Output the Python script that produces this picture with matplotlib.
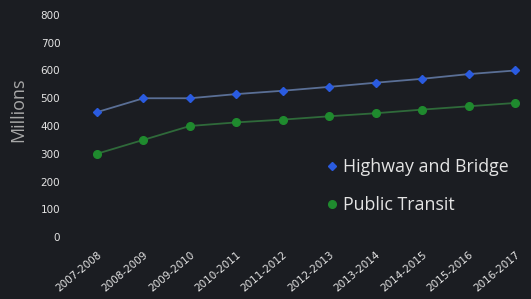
import matplotlib
matplotlib.use("Agg")
import matplotlib.pyplot as plt

# data
years = ["2007-2008", "2008-2009", "2009-2010", "2010-2011", "2011-2012",
         "2012-2013", "2013-2014", "2014-2015", "2015-2016", "2016-2017"]
highway = [450, 500, 500, 515, 527, 541, 556, 570, 587, 600]
transit = [300, 350, 400, 413, 423, 435, 446, 459, 471, 483]
yticks = [0, 100, 200, 300, 400, 500, 600, 700, 800]

bg = "#1b1d22"
txt = "#e4e4e4"

fig = plt.figure(figsize=(5.31, 2.99), dpi=100, facecolor=bg)
# axes placed in pixels: x 70..525, y 15..237
ax = fig.add_axes([70 / 531, 62 / 299, 455 / 531, 222 / 299], facecolor=bg)

x = list(range(len(years)))
ax.plot(x, highway, color="#5a6f96", lw=1.3, marker="D", ms=4.5,
        mfc="#2a5be0", mec="#2a5be0", label="Highway and Bridge")
ax.plot(x, transit, color="#2f6a3a", lw=1.3, marker="o", ms=5.5,
        mfc="#1f8a2e", mec="#1f8a2e", label="Public Transit")

# 0 -> px 97, 9 -> px 515
ppu = (515 - 97) / 9
ax.set_xlim((70 - 97) / ppu, (525 - 97) / ppu)
ax.set_ylim(0, 800)
ax.set_yticks(yticks)
ax.set_xticks(x)
ax.set_xticklabels(years, rotation=40, ha="right", rotation_mode="anchor")

for s in ax.spines.values():
    s.set_visible(False)
ax.tick_params(length=0, colors=txt, labelsize=7.5)
ax.tick_params(axis="y", pad=7)
ax.tick_params(axis="x", pad=9)

fig.text(18 / 531, 1 - 110 / 299, "Millions", rotation=90, color="#a8a8a8",
         fontsize=13, ha="center", va="center", family="Open Sans")

leg = ax.legend(loc="upper left", bbox_to_anchor=(311 / 531, 1 - 142 / 299),
                bbox_transform=fig.transFigure, frameon=False,
                handlelength=0.6, handletextpad=0.3, labelspacing=1.15,
                prop={"family": "Open Sans", "size": 12.8})
for t in leg.get_texts():
    t.set_color(txt)
for h in leg.legend_handles:
    h.set_linestyle("none")

fig.savefig("out.png", dpi=100, facecolor=bg)
